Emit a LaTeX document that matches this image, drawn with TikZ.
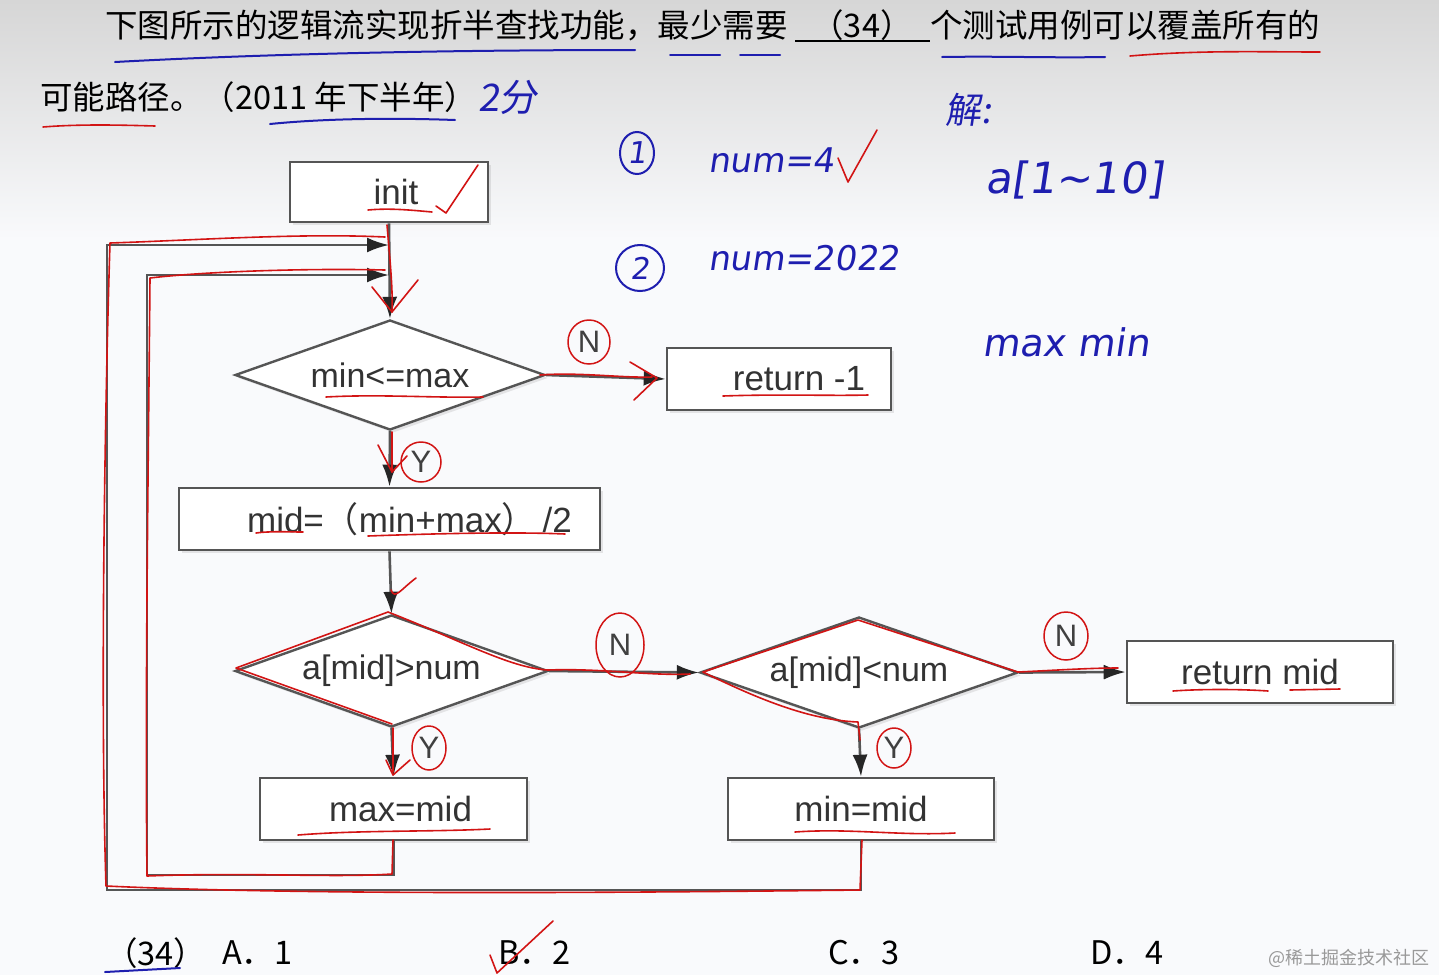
\documentclass[tikz,border=0pt]{standalone}
\usepackage{fontspec}
\setmainfont{Liberation Sans}
\newfontfamily\cjk{Noto Sans CJK SC}
\newfontfamily\hand[FakeSlant=0.15]{DejaVu Sans}
\newfontfamily\handcjk[FakeSlant=0.15]{Noto Sans CJK SC}
\usetikzlibrary{shapes.geometric,arrows.meta,shadows}
\definecolor{penblue}{RGB}{30,30,175}
\definecolor{penred}{RGB}{210,20,20}
\definecolor{boxgray}{RGB}{85,85,85}
\begin{document}
\begin{tikzpicture}[x=1pt,y=-1pt,
  shd/.style={drop shadow={opacity=0.18,shadow xshift=3pt,shadow yshift=-3pt}},
  box/.style={draw=boxgray,line width=2.6pt,fill=white,rectangle,inner sep=0pt,shd,
    font=\fontsize{35}{40}\selectfont,text=black!80},
  dia/.style={draw=boxgray,line width=2.4pt,fill=white,diamond,aspect=2.8,inner sep=0pt,shd,
    font=\fontsize{34}{40}\selectfont,text=black!80},
  arr/.style={draw=boxgray,line width=2.6pt,-{Latex[length=22pt,width=15pt,color=black!85]}},
  yn/.style={font=\fontsize{31}{36}\selectfont,text=black!75,inner sep=1pt},
  redring/.style={draw=penred,line width=1.5pt,ellipse,inner sep=0pt},
  pr/.style={draw=penred,line width=1.6pt,line cap=round,line join=round},
  pb/.style={draw=penblue,line width=2pt,line cap=round,line join=round},
  hw/.style={text=penblue,font=\hand\fontsize{34}{40}\selectfont,inner sep=0pt},
  title/.style={font=\cjk\fontsize{32.5}{38}\selectfont,text=black,inner sep=0pt}
]
% background
\useasboundingbox (0,0) rectangle (1439,975);
\fill[color={rgb,255:red,249;green,250;blue,252}] (0,0) rectangle (1439,975);
\shade[top color={rgb,255:red,214;green,214;blue,214},bottom color={rgb,255:red,249;green,250;blue,252}] (0,0) rectangle (1439,240);

% ---------- question text ----------
\node[title,anchor=west] (q1) at (105,25) {下图所示的逻辑流实现折半查找功能，最少需要};
\node[title] (q34) at (862,25) {（34）};
\coordinate (blA) at (795,41);
\coordinate (blB) at (930,41);
\draw[line width=1.5pt] (blA) -- (blB);
\node[title,anchor=west] (q2) at (930,25) {个测试用例可以覆盖所有的};
\node[title,anchor=west] (q3) at (40,97) {可能路径。（2011 年下半年）};

% ---------- flowchart ----------
\node[box,minimum width=198pt,minimum height=60pt] (init) at (389,192) {\hspace*{14pt}init};
\node[dia,minimum width=310pt,minimum height=110pt] (d1) at (390,375) {min<=max};
\node[box,minimum width=224pt,minimum height=62pt] (ret1) at (779,379) {\hspace*{40pt}return -1};
\node[box,minimum width=421pt,minimum height=62pt] (mid) at (389.5,519) {\hspace*{40pt}mid={\cjk （}min+max{\cjk ）}\,/2};
\node[dia,minimum width=313pt,minimum height=112pt] (d2) at (391.5,671) {\raisebox{6pt}{a[mid]>num}};
\node[dia,minimum width=318pt,minimum height=111pt] (d3) at (859,672.5) {a[mid]<num};
\node[box,minimum width=266pt,minimum height=62pt] (retm) at (1260,672) {return mid};
\node[box,minimum width=267pt,minimum height=62pt] (maxb) at (393.5,809) {\hspace*{14pt}max=mid};
\node[box,minimum width=266pt,minimum height=62pt] (minb) at (861,809) {min=mid};

\coordinate (in1) at (389,245);
\coordinate (in2) at (389,275);
\coordinate (L1) at (107,890);
\coordinate (L2) at (147,875);

\draw[arr] (init.south) -- (d1.north);
\draw[arr] (d1.east) -- (ret1.west);
\draw[arr] (d1.south) -- (mid.north);
\draw[arr] (mid.south) -- (d2.north);
\draw[arr] (d2.east) -- (d3.west);
\draw[arr] (d3.east) -- (retm.west);
\draw[arr] (d2.south) -- (maxb.north);
\draw[arr] (d3.south) -- (minb.north);
\draw[arr] (minb.south) |- (L1) |- (in1);
\draw[arr] (maxb.south) |- (L2) |- (in2);

% Y / N labels with red rings
\node[yn] (n1) at (589,342) {N};
\node[yn] (y1) at (421,462) {Y};
\node[yn] (n2) at (620,645) {N};
\node[yn] (y2) at (429,748) {Y};
\node[yn] (n3) at (1066,636) {N};
\node[yn] (y3) at (894,748) {Y};
\node[redring,minimum width=42pt,minimum height=44pt] (rn1) at (n1) {};
\node[redring,minimum width=40pt,minimum height=40pt] (ry1) at (y1) {};
\node[redring,minimum width=48pt,minimum height=64pt] (rn2) at (n2) {};
\node[redring,minimum width=34pt,minimum height=44pt] (ry2) at (y2) {};
\node[redring,minimum width=44pt,minimum height=48pt] (rn3) at (n3) {};
\node[redring,minimum width=34pt,minimum height=40pt] (ry3) at (y3) {};

% ---------- answer options ----------
\node[title,anchor=west] (o0) at (105,953) {（34）};
\node[title,anchor=west] (oA) at (222,953) {A．1};
\node[title,anchor=west] (oB) at (498,953) {B．2};
\node[title,anchor=west] (oC) at (828,953) {C．3};
\node[title,anchor=west] (oD) at (1090,953) {D．4};
\node[anchor=east,font=\cjk\fontsize{18}{22}\selectfont,text=black!40] (wm) at (1433,958) {@稀土掘金技术社区};

% ---------- blue handwriting ----------
\node[hw,anchor=west,font=\handcjk\fontsize{38}{44}\selectfont] (h2f) at (478,97) {2分};
\node[draw=penblue,line width=2pt,ellipse,minimum width=34pt,minimum height=42pt,inner sep=0pt,
      text=penblue,font=\hand\fontsize{30}{34}\selectfont] (c1) at (637,153) {1};
\node[draw=penblue,line width=2pt,ellipse,minimum width=48pt,minimum height=46pt,inner sep=0pt,
      text=penblue,font=\hand\fontsize{30}{34}\selectfont] (c2) at (640,268) {2};
\node[hw,anchor=west] (hnum1) at (708,160) {num=4};
\node[hw,anchor=west] (hnum2) at (708,258) {num=2022};
\node[hw,anchor=west,font=\handcjk\fontsize{36}{42}\selectfont] (hjie) at (945,110) {解:};
\node[hw,anchor=west,font=\hand\fontsize{43}{50}\selectfont] (harr) at (985,180) {a[1\char`~10]};
\node[hw,anchor=west,font=\hand\fontsize{38}{44}\selectfont] (hmm) at (982,342) {max\,\,min};

% blue underlines
\draw[pb] (115,62) .. controls (300,52) and (500,50) .. (635,50);
\draw[pb] (670,55) -- (720,55);
\draw[pb] (740,55) -- (780,55);
\draw[pb] (942,57) .. controls (1000,56) and (1050,58) .. (1105,57);
\draw[pb] (270,124) .. controls (330,118) and (400,118) .. (455,120);
\draw[pb] (105,972) -- (180,968);

% red underlines
\draw[pr] (1130,56) .. controls (1200,50) and (1260,52) .. (1320,52);
\draw[pr] (43,127) .. controls (80,124) and (120,125) .. (155,126);
\draw[pr] (368,210) .. controls (390,208) and (410,210) .. (432,212);
\draw[pr] (326,397) .. controls (380,394) and (430,398) .. (483,397);
\draw[pr] (723,396) .. controls (780,394) and (830,396) .. (868,395);
\draw[pr] (256,533) .. controls (270,531) and (290,532) .. (303,532);
\draw[pr] (368,536) .. controls (450,533) and (520,532) .. (565,534);
\draw[pr] (298,835) .. controls (360,830) and (430,832) .. (490,829);
\draw[pr] (795,832) .. controls (850,828) and (900,836) .. (955,833);
\draw[pr] (1173,691) .. controls (1200,689) and (1240,689) .. (1268,691);
\draw[pr] (1290,690) -- (1340,689);

% red check marks
\draw[pr] (436,206) -- (446,213) -- (478,165);
\draw[pr] (838,158) -- (848,182) -- (877,130);
\draw[pr] (490,955) -- (497,973) -- (553,921);

% red traces of paths
\draw[pr] (387,225) .. controls (390,260) and (393,290) .. (392,312);
\draw[pr] (372,287) -- (392,312) -- (418,280);
\draw[pr] (385,237) .. controls (300,233) and (200,240) .. (110,243) .. controls (105,400) and (100,700) .. (106,886)
   .. controls (300,895) and (600,893) .. (860,890) -- (862,840);
\draw[pr] (385,270) .. controls (300,268) and (200,272) .. (150,278) .. controls (148,500) and (145,700) .. (147,876)
   .. controls (250,872) and (330,878) .. (392,874) -- (393,840);
\draw[pr] (540,375) .. controls (580,372) and (620,378) .. (652,377);
\draw[pr] (630,362) -- (657,378) -- (634,400);
\draw[pr] (392,432) -- (392,472);
\draw[pr] (378,445) -- (392,472) -- (407,456);
\draw[pr] (391,590) .. controls (395,600) and (400,590) .. (416,578);
\draw[pr] (388,612) -- (236,668) -- (392,724);
\draw[pr] (388,612) .. controls (460,640) and (510,668) .. (548,670) .. controls (600,668) and (650,676) .. (690,674);
\draw[pr] (393,728) -- (393,772);
\draw[pr] (386,760) -- (393,775) -- (410,760);
\draw[pr] (703,672) -- (858,620) -- (1018,672);
\draw[pr] (703,672) .. controls (760,700) and (810,720) .. (858,722) -- (860,740);
\draw[pr] (1018,672) .. controls (1060,670) and (1090,668) .. (1118,668);
\end{tikzpicture}
\end{document}
